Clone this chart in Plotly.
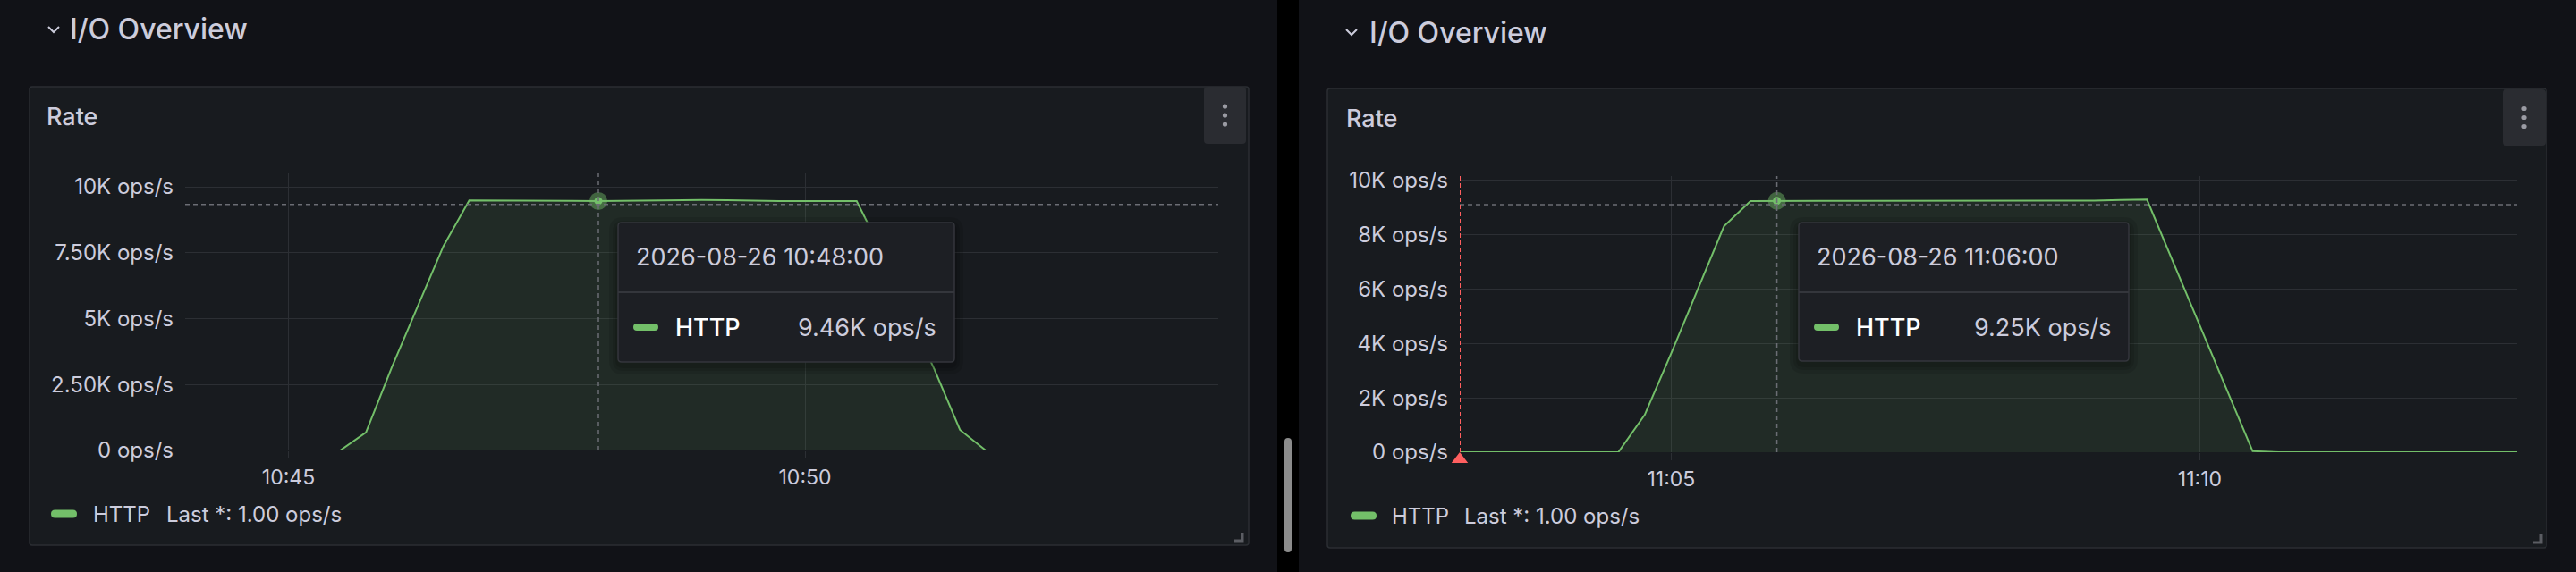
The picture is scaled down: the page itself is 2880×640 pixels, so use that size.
import plotly.graph_objects as go

W, H = 2880, 640

# ---- data -------------------------------------------------------------
left_times = ["2026-08-26 10:44:45", "2026-08-26 10:45:00", "2026-08-26 10:45:15", "2026-08-26 10:45:30",
              "2026-08-26 10:45:45", "2026-08-26 10:46:00", "2026-08-26 10:46:15", "2026-08-26 10:46:30",
              "2026-08-26 10:46:45", "2026-08-26 10:47:00", "2026-08-26 10:47:15", "2026-08-26 10:47:30",
              "2026-08-26 10:47:45", "2026-08-26 10:48:00", "2026-08-26 10:48:15", "2026-08-26 10:48:30",
              "2026-08-26 10:48:45", "2026-08-26 10:49:00", "2026-08-26 10:49:15", "2026-08-26 10:49:30",
              "2026-08-26 10:49:45", "2026-08-26 10:50:00", "2026-08-26 10:50:15", "2026-08-26 10:50:30",
              "2026-08-26 10:50:45", "2026-08-26 10:51:00", "2026-08-26 10:51:15", "2026-08-26 10:51:30",
              "2026-08-26 10:51:45", "2026-08-26 10:52:00", "2026-08-26 10:52:15", "2026-08-26 10:52:30",
              "2026-08-26 10:52:45", "2026-08-26 10:53:00", "2026-08-26 10:53:15", "2026-08-26 10:53:30",
              "2026-08-26 10:53:45", "2026-08-26 10:54:00"]
left_vals = [0, 0, 0, 0,
             680, 3150, 5450, 7750,
             9480, 9480, 9470, 9490,
             9470, 9460, 9470, 9490,
             9500, 9500, 9490, 9470,
             9460, 9460, 9460, 9460,
             7500, 5200, 3100, 780,
             1, 1, 1, 1,
             1, 1, 1, 1,
             1, 1]

right_times = ["2026-08-26 11:03:00", "2026-08-26 11:03:15", "2026-08-26 11:03:30", "2026-08-26 11:03:45",
               "2026-08-26 11:04:00", "2026-08-26 11:04:15", "2026-08-26 11:04:30", "2026-08-26 11:04:45",
               "2026-08-26 11:05:00", "2026-08-26 11:05:15", "2026-08-26 11:05:30", "2026-08-26 11:05:45",
               "2026-08-26 11:06:00", "2026-08-26 11:06:15", "2026-08-26 11:06:30", "2026-08-26 11:06:45",
               "2026-08-26 11:07:00", "2026-08-26 11:07:15", "2026-08-26 11:07:30", "2026-08-26 11:07:45",
               "2026-08-26 11:08:00", "2026-08-26 11:08:15", "2026-08-26 11:08:30", "2026-08-26 11:08:45",
               "2026-08-26 11:09:00", "2026-08-26 11:09:15", "2026-08-26 11:09:30", "2026-08-26 11:09:45",
               "2026-08-26 11:10:00", "2026-08-26 11:10:15", "2026-08-26 11:10:30", "2026-08-26 11:10:45",
               "2026-08-26 11:11:00", "2026-08-26 11:11:15", "2026-08-26 11:11:30", "2026-08-26 11:11:45",
               "2026-08-26 11:12:00", "2026-08-26 11:12:15", "2026-08-26 11:12:30", "2026-08-26 11:12:45",
               "2026-08-26 11:13:00"]
right_vals = [0, 0, 0, 0,
              0, 0, 0, 1380,
              3640, 5980, 8320, 9240,
              9250, 9250, 9250, 9250,
              9250, 9250, 9250, 9250,
              9250, 9250, 9250, 9260,
              9260, 9280, 9300, 6975,
              4650, 2325, 40, 1,
              1, 1, 1, 1,
              1, 1, 1, 1,
              1]

left_range = ["2026-08-26 10:44:00", "2026-08-26 10:54:00"]
right_range = ["2026-08-26 11:03:00", "2026-08-26 11:13:00"]
left_xticks = ["2026-08-26 10:45:00", "2026-08-26 10:50:00"]
left_xlabels = ["10:45", "10:50"]
right_xticks = ["2026-08-26 11:05:00", "2026-08-26 11:10:00"]
right_xlabels = ["11:05", "11:10"]
left_yticks = [0, 2500, 5000, 7500, 10000]
left_ylabels = ["0 ops/s", "2.50K ops/s", "5K ops/s", "7.50K ops/s", "10K ops/s"]
right_yticks = [0, 2000, 4000, 6000, 8000, 10000]
right_ylabels = ["0 ops/s", "2K ops/s", "4K ops/s", "6K ops/s", "8K ops/s", "10K ops/s"]
left_ymax = 10509
right_ymax = 10164

left_hover = "2026-08-26 10:48:00"
right_hover = "2026-08-26 11:06:00"
left_cursor_y = 9330
right_cursor_y = 9110
right_annotation = "2026-08-26 11:03:00"

series_name = "HTTP"
section_title = "I/O Overview"
panel_title = "Rate"

# ---- style ------------------------------------------------------------
PAGE = "#111217"
PANEL = "#181b1f"
BORDER = "#2b2e33"
GRID = "#2c2f34"
TEXT = "#ccccdc"
GREEN = "#73bf69"
RED = "#ff5f5f"
FONT = "Inter"


def X(p):
    return p / W


def Y(p):
    return 1 - p / H


def rrect(x0, y0, x1, y1, r, fill, line=None, layer="above"):
    rx, ry = r / W, r / H
    a, b, c, d = X(x0), Y(y0), X(x1), Y(y1)
    path = (f"M {a+rx},{b} L {c-rx},{b} Q {c},{b} {c},{b-ry} L {c},{d+ry} Q {c},{d} {c-rx},{d} "
            f"L {a+rx},{d} Q {a},{d} {a},{d+ry} L {a},{b-ry} Q {a},{b} {a+rx},{b} Z")
    return dict(type="path", xref="paper", yref="paper", path=path, fillcolor=fill,
                line=dict(color=line or fill, width=1.5 if line else 0), layer=layer)


def fmt_ops(v):
    if v >= 1000:
        return f"{v/1000:.2f}K ops/s"
    return f"{v:.2f} ops/s"


fig = go.Figure()

panels = [
    dict(box=(33, 97, 1396, 610), xa="x", ya="y", times=left_times, vals=left_vals, hover=left_hover,
         cursor=left_cursor_y, header=(54, 76, 33), title=(50, 130), menu=(1346, 97, 1393, 161),
         corner=(1380, 596), tip=(691, 249, 1067, 405), legend_y=575, legend_x=(57, 102, 184)),
    dict(box=(1484, 99, 2847, 613), xa="x2", ya="y2", times=right_times, vals=right_vals, hover=right_hover,
         cursor=right_cursor_y, header=(1505, 1529, 36), title=(1503, 132), menu=(2798, 100, 2846, 163),
         corner=(2832, 598), tip=(2011, 249, 2380, 404), legend_y=577, legend_x=(1510, 1554, 1635)),
]

shapes = [
    dict(type="rect", xref="paper", yref="paper", x0=X(1428), x1=X(1452), y0=0, y1=1,
         fillcolor="#000000", line=dict(width=0), layer="below"),
    rrect(1436, 490, 1444, 618, 4, "#8c8c8c", layer="below"),
]
annotations = []

for p in panels:
    x0, y0, x1, y1 = p["box"]
    shapes.append(rrect(x0, y0, x1, y1, 3, PANEL, BORDER, layer="below"))
    mx0, my0, mx1, my1 = p["menu"]
    shapes.append(rrect(mx0, my0, mx1, my1, 4, "#2a2c31", layer="below"))
    cx = (mx0 + mx1) / 2
    cy = (my0 + my1) / 2
    for k in (-10, 0, 10):
        shapes.append(dict(type="circle", xref="paper", yref="paper",
                           x0=X(cx - 2.6), x1=X(cx + 2.6), y0=Y(cy + k - 2.6), y1=Y(cy + k + 2.6),
                           fillcolor="#9a9ba3", line=dict(width=0)))
    kx, ky = p["corner"]
    shapes.append(dict(type="path", xref="paper", yref="paper",
                       path=f"M {X(kx)},{Y(ky+9)} L {X(kx+9)},{Y(ky+9)} L {X(kx+9)},{Y(ky)}",
                       line=dict(color="#5b5d63", width=3)))

    # section header chevron + text
    chx, tx, ty = p["header"]
    shapes.append(dict(type="path", xref="paper", yref="paper",
                       path=f"M {X(chx)},{Y(ty-3)} L {X(chx+6)},{Y(ty+3)} L {X(chx+12)},{Y(ty-3)}",
                       line=dict(color=TEXT, width=2)))
    annotations.append(dict(x=X(tx), y=Y(ty), xref="paper", yref="paper", text=section_title,
                            showarrow=False, xanchor="left", yanchor="middle",
                            font=dict(family=FONT, size=32, color=TEXT, weight=500)))
    annotations.append(dict(x=X(p["title"][0]), y=Y(p["title"][1]), xref="paper", yref="paper",
                            text=panel_title, showarrow=False, xanchor="left", yanchor="middle",
                            font=dict(family=FONT, size=27, color=TEXT, weight=500)))

    # series
    fig.add_trace(go.Scatter(x=p["times"], y=p["vals"], mode="lines", xaxis=p["xa"], yaxis=p["ya"],
                             line=dict(color=GREEN, width=2), fill="tozeroy",
                             fillcolor="rgba(115,191,105,0.10)", hoverinfo="skip", showlegend=False))
    hv = p["vals"][p["times"].index(p["hover"])]
    fig.add_trace(go.Scatter(x=[p["hover"]], y=[hv], mode="markers", xaxis=p["xa"], yaxis=p["ya"],
                             marker=dict(size=20, color="rgba(115,191,105,0.45)"), hoverinfo="skip",
                             showlegend=False, cliponaxis=False))
    fig.add_trace(go.Scatter(x=[p["hover"]], y=[hv], mode="markers", xaxis=p["xa"], yaxis=p["ya"],
                             marker=dict(size=9, color=GREEN), hoverinfo="skip", showlegend=False,
                             cliponaxis=False))

    # crosshair
    shapes.append(dict(type="line", xref=p["xa"], yref=p["ya"] + " domain", x0=p["hover"], x1=p["hover"],
                       y0=0, y1=1, line=dict(color="#6b6d74", width=1.5, dash="5px,4px")))
    shapes.append(dict(type="line", xref=p["xa"] + " domain", yref=p["ya"], x0=0, x1=1,
                       y0=p["cursor"], y1=p["cursor"], line=dict(color="#6b6d74", width=1.5, dash="5px,4px")))

    # tooltip
    bx0, by0, bx1, by1 = p["tip"]
    for s in (10, 6, 3):
        shapes.append(rrect(bx0 - s, by0 - s + 4, bx1 + s, by1 + s + 4, 6 + s, "rgba(0,0,0,0.10)"))
    shapes.append(rrect(bx0, by0, bx1, by1, 4, "#1d1f24", "#34363c"))
    shapes.append(dict(type="line", xref="paper", yref="paper", x0=X(bx0), x1=X(bx1),
                       y0=Y(327), y1=Y(327), line=dict(color="#34363c", width=2)))
    annotations.append(dict(x=X(bx0 + 18), y=Y(287), xref="paper", yref="paper",
                            text=p["hover"], showarrow=False, xanchor="left", yanchor="middle",
                            font=dict(family=FONT, size=27, color=TEXT)))
    shapes.append(rrect(bx0 + 17, 362, bx0 + 45, 370, 4, GREEN))
    annotations.append(dict(x=X(bx0 + 62), y=Y(366), xref="paper", yref="paper", text=series_name,
                            showarrow=False, xanchor="left", yanchor="middle",
                            font=dict(family=FONT, size=27, color="#ffffff", weight=500)))
    annotations.append(dict(x=X(bx1 - 18), y=Y(366), xref="paper", yref="paper", text=fmt_ops(hv),
                            showarrow=False, xanchor="right", yanchor="middle",
                            font=dict(family=FONT, size=27, color=TEXT)))

    # legend
    lsx, lhx, llx = p["legend_x"]
    ly = p["legend_y"]
    shapes.append(rrect(lsx, ly - 4.5, lsx + 29, ly + 4.5, 4.5, GREEN))
    annotations.append(dict(x=X(lhx), y=Y(ly), xref="paper", yref="paper", text=series_name,
                            showarrow=False, xanchor="left", yanchor="middle",
                            font=dict(family=FONT, size=24, color=TEXT)))
    annotations.append(dict(x=X(llx), y=Y(ly), xref="paper", yref="paper",
                            text="Last *: " + fmt_ops(p["vals"][-1]), showarrow=False,
                            xanchor="left", yanchor="middle", font=dict(family=FONT, size=24, color=TEXT)))

# annotation marker on right panel: dashed red line + small triangle hanging under the axis
shapes.append(dict(type="line", xref="x2", yref="y2 domain", x0=right_annotation, x1=right_annotation,
                   y0=0, y1=1, line=dict(color=RED, width=2, dash="5px,3px")))
fig.add_trace(go.Scatter(x=[right_annotation], y=[0], mode="markers", xaxis="x2", yaxis="y2",
                         marker=dict(symbol="triangle-up", angle=0, standoff=8, size=16, color=RED),
                         hoverinfo="skip", showlegend=False, cliponaxis=False))

axis_font = dict(family=FONT, size=23, color=TEXT)


def xax(domain, rng, tv, tt, anchor):
    return dict(domain=domain, range=rng, tickvals=tv, ticktext=tt, showgrid=True, gridcolor=GRID,
                zeroline=False, showline=False, ticks="outside", ticklen=8, tickcolor=GRID,
                tickfont=axis_font, anchor=anchor, fixedrange=True, ticklabelstandoff=1,
                automargin=False)


def yax(domain, rng, tv, tt, anchor):
    return dict(domain=domain, range=rng, tickvals=tv, ticktext=tt, showgrid=True, gridcolor=GRID,
                zeroline=False, showline=False, ticks="", tickfont=dict(family=FONT, size=24, color=TEXT),
                anchor=anchor, fixedrange=True, ticklabelstandoff=12, automargin=False)


fig.update_layout(
    width=W, height=H, margin=dict(l=0, r=0, t=0, b=0, pad=0, autoexpand=False),
    paper_bgcolor=PAGE, plot_bgcolor="rgba(0,0,0,0)",
    font=dict(family=FONT, color=TEXT),
    xaxis=xax([X(207), X(1362)], left_range, left_xticks, left_xlabels, "y"),
    yaxis=yax([Y(504), Y(194)], [0, left_ymax], left_yticks, left_ylabels, "x"),
    xaxis2=xax([X(1632), X(2814)], right_range, right_xticks, right_xlabels, "y2"),
    yaxis2=yax([Y(506), Y(197)], [0, right_ymax], right_yticks, right_ylabels, "x2"),
    shapes=shapes, annotations=annotations, showlegend=False, hovermode=False,
)

fig.write_html("out.html", config={"displayModeBar": False},
               post_script="document.body.style.margin='0';document.body.style.overflow='hidden';")
